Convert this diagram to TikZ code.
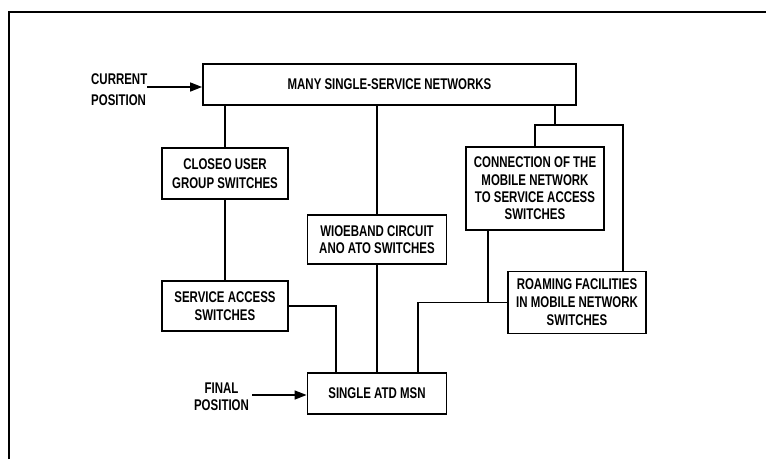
\documentclass[tikz,border=0pt]{standalone}
\usepackage{fontspec}
\setmainfont[FakeStretch=0.74]{Liberation Sans}
\usetikzlibrary{arrows.meta}
\tikzset{
  boxnode/.style={draw, line width=1.9pt, inner sep=0pt, align=center,
    font=\bfseries\fontsize{15.5}{17.5}\selectfont},
  lbl/.style={inner sep=0pt, font=\bfseries\fontsize{15.5}{17}\selectfont},
  conn/.style={line width=1.7pt},
  arr/.style={line width=1.6pt, -{Triangle[length=12pt,width=9pt]}},
  frame/.style={line width=1.8pt}
}
\begin{document}
\begin{tikzpicture}[x=1pt,y=-1pt]
\useasboundingbox (0,0) rectangle (766,459);
% frame
\draw[frame] (9,459) -- (9,12) -- (766,12);
% boxes
\node[boxnode, minimum width=373pt, minimum height=41pt] (top) at (389.5,84.5) {MANY SINGLE-SERVICE NETWORKS};
\node[boxnode, minimum width=126pt, minimum height=51pt, font=\bfseries\fontsize{15.5}{18.5}\selectfont] (closed) at (225,173.5) {CLOSEO USER\\GROUP SWITCHES};
\node[boxnode, minimum width=126pt, minimum height=50pt] (service) at (225,306) {SERVICE ACCESS\\SWITCHES};
\node[boxnode, minimum width=139pt, minimum height=49pt, font=\bfseries\fontsize{15.5}{17}\selectfont] (wide) at (377,239.5) {WIOEBAND CIRCUIT\\ANO ATO SWITCHES};
\node[boxnode, minimum width=138pt, minimum height=83pt, font=\bfseries\fontsize{15.5}{17.3}\selectfont] (conn) at (535,188.5) {CONNECTION OF THE\\MOBILE NETWORK\\TO SERVICE ACCESS\\SWITCHES};
\node[boxnode, minimum width=138pt, minimum height=62pt, font=\bfseries\fontsize{15.5}{18}\selectfont] (roam) at (577,302.5) {ROAMING FACILITIES\\IN MOBILE NETWORK\\SWITCHES};
\node[boxnode, minimum width=139pt, minimum height=41pt] (atd) at (377,393.5) {SINGLE ATD MSN};
% labels
\node[lbl, anchor=west, align=left, font=\bfseries\fontsize{15.5}{21}\selectfont] (cur) at (91,89.5) {CURRENT\\POSITION};
\node[lbl, align=center, font=\bfseries\fontsize{15.5}{17}\selectfont] (fin) at (221.5,397) {FINAL\\POSITION};
\draw[arr] (147,87) -- (top.west |- 0,87);
\draw[arr] (252,395) -- (atd.west |- 0,395);
% connectors
\draw[conn] (closed.north) -- (closed.north |- top.south);
\draw[conn] (closed.south) -- (closed.south |- service.north);
\draw[conn] (wide.north) -- (wide.north |- top.south);
\draw[conn] (wide.south) -- (wide.south |- atd.north);
\coordinate (s1) at (336,373);
\draw[conn] (service.east) -| (s1);
\coordinate (bar) at (555,125);
\coordinate (rb) at (623,125);
\draw[conn] (top.south -| bar) -- (bar);
\draw[conn] (conn.north) |- (rb) -- (rb |- roam.north);
\coordinate (c1) at (488,230);
\draw[conn] (c1) -- (c1 |- roam.west);
\coordinate (r1) at (418,373);
\draw[conn] (r1) |- (roam.west);
\end{tikzpicture}
\end{document}
